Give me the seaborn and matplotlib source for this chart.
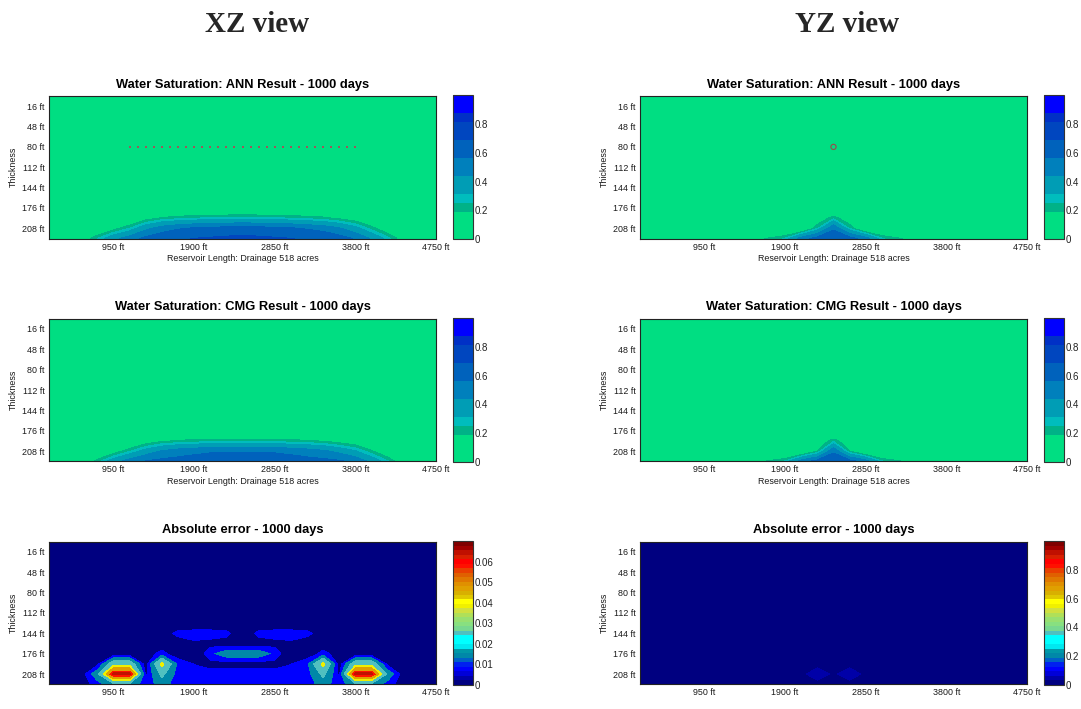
import numpy as np
import matplotlib
matplotlib.use("Agg")
import matplotlib.pyplot as plt
from matplotlib.colors import ListedColormap, Normalize
import seaborn as sns

sns.set_theme(style="white")
plt.rcParams["font.family"] = ["Liberation Sans", "DejaVu Sans"]

# ---------------------------------------------------------------- grid
length_ft = np.arange(190, 4751, 190)      # 25 nodes along the reservoir length
thickness_ft = np.arange(0, 225, 16)       # nodes through the thickness

x_ticks = [950, 1900, 2850, 3800, 4750]
y_ticks = [16, 48, 80, 112, 144, 176, 208]

# ------------------------------------------------ water saturation, XZ view
# (rows shallower than 192 ft are zero)
xz_ann_192 = [0, 0, 0, 0, 0, 0.05, 0.14, 0.20, 0.23, 0.25, 0.26, 0.27, 0.28,
              0.27, 0.26, 0.25, 0.23, 0.21, 0.17, 0.12, 0.05, 0, 0, 0, 0]
xz_ann_208 = [0, 0, 0, 0.05, 0.15, 0.25, 0.40, 0.50, 0.55, 0.58, 0.60, 0.61, 0.62,
              0.61, 0.60, 0.58, 0.55, 0.52, 0.45, 0.35, 0.22, 0.10, 0, 0, 0]
xz_ann_224 = [0, 0, 0.10, 0.25, 0.40, 0.50, 0.60, 0.65, 0.68, 0.69, 0.70, 0.71, 0.72,
              0.71, 0.70, 0.69, 0.68, 0.66, 0.62, 0.55, 0.42, 0.28, 0.12, 0, 0]

xz_cmg_192 = [0, 0, 0, 0, 0, 0.04, 0.12, 0.17, 0.20, 0.215, 0.22, 0.22, 0.22,
              0.22, 0.22, 0.215, 0.20, 0.18, 0.14, 0.10, 0.04, 0, 0, 0, 0]
xz_cmg_208 = [0, 0, 0, 0.04, 0.13, 0.24, 0.36, 0.45, 0.50, 0.53, 0.55, 0.55, 0.55,
              0.55, 0.55, 0.53, 0.50, 0.46, 0.40, 0.32, 0.20, 0.08, 0, 0, 0]
xz_cmg_224 = [0, 0, 0.08, 0.22, 0.38, 0.50, 0.57, 0.60, 0.61, 0.62, 0.62, 0.62, 0.62,
              0.62, 0.62, 0.62, 0.61, 0.60, 0.58, 0.53, 0.40, 0.26, 0.10, 0, 0]

# ------------------------------------------------ water saturation, YZ view
yz_ann_192 = [0, 0, 0, 0, 0, 0, 0, 0, 0, 0, 0, 0.10, 0.23,
              0.10, 0, 0, 0, 0, 0, 0, 0, 0, 0, 0, 0]
yz_ann_208 = [0, 0, 0, 0, 0, 0, 0, 0, 0, 0, 0.02, 0.24, 0.54,
              0.24, 0.02, 0, 0, 0, 0, 0, 0, 0, 0, 0, 0]
yz_ann_224 = [0, 0, 0, 0, 0, 0, 0.05, 0.15, 0.20, 0.26, 0.50, 0.62, 0.66,
              0.62, 0.50, 0.26, 0.20, 0.15, 0.05, 0, 0, 0, 0, 0, 0]

yz_cmg_192 = [0, 0, 0, 0, 0, 0, 0, 0, 0, 0, 0, 0.10, 0.23,
              0.10, 0, 0, 0, 0, 0, 0, 0, 0, 0, 0, 0]
yz_cmg_208 = [0, 0, 0, 0, 0, 0, 0, 0, 0, 0, 0.02, 0.19, 0.54,
              0.19, 0.02, 0, 0, 0, 0, 0, 0, 0, 0, 0, 0]
yz_cmg_224 = [0, 0, 0, 0, 0, 0, 0.05, 0.15, 0.20, 0.26, 0.50, 0.62, 0.66,
              0.62, 0.50, 0.26, 0.20, 0.15, 0.05, 0, 0, 0, 0, 0, 0]

# ------------------------------------------------ absolute error, XZ view
xz_err_144 = [0, 0, 0, 0, 0, 0, 0, 0.003, 0.0105, 0.012, 0.012, 0.0105, 0,
              0.0105, 0.012, 0.012, 0.0105, 0.003, 0, 0, 0, 0, 0, 0, 0]
xz_err_160 = [0, 0, 0, 0, 0, 0, 0, 0.003, 0.003, 0.0063, 0.005, 0.004, 0.004,
              0.004, 0.005, 0.0063, 0.003, 0.003, 0, 0, 0, 0, 0, 0, 0]
xz_err_176 = [0, 0, 0, 0, 0.002, 0.002, 0.004, 0.0105, 0.003, 0, 0.013, 0.02, 0.02,
              0.02, 0.013, 0, 0.003, 0.0105, 0.004, 0.002, 0.002, 0, 0, 0, 0]
xz_err_192 = [0, 0, 0, 0.005, 0.034, 0.034, 0.003, 0.043, 0.0126, 0.0077, 0.005, 0.005, 0.005,
              0.005, 0.005, 0.0077, 0.0126, 0.043, 0.003, 0.034, 0.034, 0.005, 0, 0, 0]
xz_err_208 = [0, 0, 0.0035, 0.022, 0.068, 0.068, 0.0063, 0.028, 0.011, 0.011, 0.011, 0.011, 0.011,
              0.011, 0.011, 0.011, 0.011, 0.028, 0.0063, 0.068, 0.068, 0.022, 0.0035, 0, 0]
xz_err_224 = [0, 0, 0.004, 0.011, 0.022, 0.022, 0.0105, 0.019, 0.0105, 0.0095, 0.0095, 0.0095, 0.0095,
              0.0095, 0.0095, 0.0095, 0.0105, 0.019, 0.0105, 0.022, 0.022, 0.011, 0.004, 0, 0]

# ------------------------------------------------ absolute error, YZ view
yz_err_192 = [0, 0, 0, 0, 0, 0, 0, 0, 0, 0, 0.02, 0.04, 0.03,
              0.04, 0.02, 0, 0, 0, 0, 0, 0, 0, 0, 0, 0]
yz_err_208 = [0, 0, 0, 0, 0, 0, 0, 0, 0, 0, 0.043, 0.065, 0.045,
              0.065, 0.043, 0, 0, 0, 0, 0, 0, 0, 0, 0, 0]
yz_err_224 = [0, 0, 0, 0, 0, 0, 0, 0, 0, 0, 0.02, 0.04, 0.03,
              0.04, 0.02, 0, 0, 0, 0, 0, 0, 0, 0, 0, 0]

# horizontal well (XZ) and vertical well (YZ) locations
well_xz_x = [1140, 1235, 1330, 1425, 1520, 1615, 1710, 1805, 1900, 1995,
             2090, 2185, 2280, 2375, 2470, 2565, 2660, 2755, 2850, 2945,
             3040, 3135, 3230, 3325, 3420, 3515, 3610, 3705, 3800]
well_depth = 80
well_yz_x = [2470]


def field(rows):
    z = np.zeros((len(thickness_ft), len(length_ft)))
    depths = list(thickness_ft)
    for depth, vals in rows.items():
        z[depths.index(depth)] = vals
    return z


sw = {
    "xz_ann": field({192: xz_ann_192, 208: xz_ann_208, 224: xz_ann_224}),
    "xz_cmg": field({192: xz_cmg_192, 208: xz_cmg_208, 224: xz_cmg_224}),
    "yz_ann": field({192: yz_ann_192, 208: yz_ann_208, 224: yz_ann_224}),
    "yz_cmg": field({192: yz_cmg_192, 208: yz_cmg_208, 224: yz_cmg_224}),
}
err = {
    "xz": field({144: xz_err_144, 160: xz_err_160, 176: xz_err_176,
                 192: xz_err_192, 208: xz_err_208, 224: xz_err_224}),
    "yz": field({192: yz_err_192, 208: yz_err_208, 224: yz_err_224}),
}

# ---------------------------------------------------------------- colours
sat_cmap = ListedColormap([
    "#00DE82", "#00DE82", "#00DE82", "#00B287", "#00BDBD",
    "#009DB5", "#009DB5", "#0080BC", "#0080BC", "#0062BC", "#0062BC",
    "#0046BF", "#0046BF", "#0030C6", "#0000FF", "#0000FF"])
sat_range = (0, 1)
sat_levels = np.linspace(0, 1, 17)

err_cmap = ListedColormap([
    "#000080", "#0000A8", "#0000D8", "#0000FF", "#0020F0", "#0060C8",
    "#0088A8", "#0098A8", "#00E8F0", "#00FFFF", "#00FFFF", "#50C0C0",
    "#78D890", "#88E080", "#98E070", "#B0E058", "#D0E040", "#F0F000",
    "#FFFF00", "#E0C800", "#D8B000", "#E0A000", "#E09000", "#E07800",
    "#E06000", "#E84000", "#FF1000", "#FF0000", "#D82000", "#C01000",
    "#A00000", "#800000"])

xz_err_range = (0, 0.07)
xz_err_levels = [0, 0.008, 0.015, 0.025, 0.039, 0.047, 0.058, 0.064, 0.07]
yz_err_range = (0, 1.0)
yz_err_levels = [0, 0.05, 0.1, 0.2, 0.3, 0.4, 0.5, 0.6, 0.7, 0.8, 0.9, 1.0]

# ---------------------------------------------------------------- layout
W, H = 1081, 709
fig = plt.figure(figsize=(W / 100, H / 100), dpi=100)
fig.patch.set_facecolor("white")


def fx(px):
    return px / W


def fy(py):
    return 1 - py / H


col_x = [49, 640]
cbar_x = [453, 1043.5]
row_top = [96, 318.8, 541.7]
ax_w, ax_h = 387, 142.5

text_col = "#1a1a1a"


def style_axes(ax, title):
    ax.set_xlim(190, 4750)
    ax.set_ylim(224, 0)
    ax.set_xticks(x_ticks)
    ax.set_xticklabels([f"{t} ft" for t in x_ticks])
    ax.set_yticks(y_ticks)
    ax.set_yticklabels([f"{t} ft" for t in y_ticks])
    ax.tick_params(axis="both", labelsize=6.4, colors=text_col, length=0, pad=3)
    ax.set_ylabel("Thickness", fontsize=6.4, color=text_col, labelpad=3)
    ax.set_title(title, fontsize=9.3, fontweight="bold", color="black", pad=6)
    for s in ax.spines.values():
        s.set_color("#222222")
        s.set_linewidth(0.8)


def style_cbar(cax, vrange, cmap, ticks, labels):
    sm = plt.cm.ScalarMappable(norm=Normalize(*vrange), cmap=cmap)
    cb = fig.colorbar(sm, cax=cax)
    cb.set_ticks(ticks, labels=labels)
    cax.xaxis.set_visible(False)
    cax.yaxis.set_ticks_position("both")
    cax.tick_params(axis="y", direction="in", length=2.5, width=0.6,
                    labelsize=7, colors="#222222", pad=1.5,
                    labelleft=False, labelright=True)
    cb.outline.set_edgecolor("#333333")
    cb.outline.set_linewidth(0.8)


panels = [
    (0, 0, "Water Saturation: ANN Result - 1000 days", sw["xz_ann"], "sat"),
    (0, 1, "Water Saturation: CMG Result - 1000 days", sw["xz_cmg"], "sat"),
    (0, 2, "Absolute error - 1000 days", err["xz"], "xz_err"),
    (1, 0, "Water Saturation: ANN Result - 1000 days", sw["yz_ann"], "sat"),
    (1, 1, "Water Saturation: CMG Result - 1000 days", sw["yz_cmg"], "sat"),
    (1, 2, "Absolute error - 1000 days", err["yz"], "yz_err"),
]

axes = {}
for col, row, title, z, kind in panels:
    ax = fig.add_axes([fx(col_x[col]), fy(row_top[row] + ax_h), fx(ax_w), ax_h / H])
    cax = fig.add_axes([fx(cbar_x[col]), fy(row_top[row] + ax_h + 0.5),
                        fx(20), (ax_h + 1) / H])
    if kind == "sat":
        ax.contourf(length_ft, thickness_ft, z, levels=sat_levels,
                    cmap=sat_cmap, norm=Normalize(*sat_range))
        ticks = [0, 0.2, 0.4, 0.6, 0.8]
        style_cbar(cax, sat_range, sat_cmap, ticks, [f"{t:g}" for t in ticks])
    elif kind == "xz_err":
        nrm = Normalize(*xz_err_range)
        cols = [err_cmap(nrm(v)) for v in xz_err_levels[:-1]]
        ax.contourf(length_ft, thickness_ft, z, levels=xz_err_levels, colors=cols)
        ticks = [0, 0.01, 0.02, 0.03, 0.04, 0.05, 0.06]
        style_cbar(cax, xz_err_range, err_cmap, ticks, [f"{t:g}" for t in ticks])
    else:
        nrm = Normalize(*yz_err_range)
        cols = [err_cmap(nrm(v)) for v in yz_err_levels[:-1]]
        ax.contourf(length_ft, thickness_ft, z, levels=yz_err_levels, colors=cols)
        ticks = [0, 0.2, 0.4, 0.6, 0.8]
        style_cbar(cax, yz_err_range, err_cmap, ticks, [f"{t:g}" for t in ticks])
    style_axes(ax, title)
    if row < 2:
        ax.set_xlabel("Reservoir Length: Drainage 518 acres", fontsize=6.4,
                      color=text_col, labelpad=2)
    axes[(col, row)] = ax

# well locations on the ANN panels
sns.scatterplot(x=well_xz_x, y=[well_depth] * len(well_xz_x), ax=axes[(0, 0)],
                color="#9a5a5a", s=1.2, marker="s", linewidth=0, legend=False)
sns.scatterplot(x=well_yz_x, y=[well_depth], ax=axes[(1, 0)], marker="o", s=14,
                facecolor="none", edgecolor="#9a4a4a", linewidth=0.8, legend=False)

# column headers
fig.text(fx(257), fy(25), "XZ view", ha="center", va="center", fontsize=21,
         fontweight="bold", family=["Liberation Serif", "DejaVu Serif"])
fig.text(fx(847), fy(25), "YZ view", ha="center", va="center", fontsize=21,
         fontweight="bold", family=["Liberation Serif", "DejaVu Serif"])

fig.savefig("out.png", dpi=100, facecolor="white")
